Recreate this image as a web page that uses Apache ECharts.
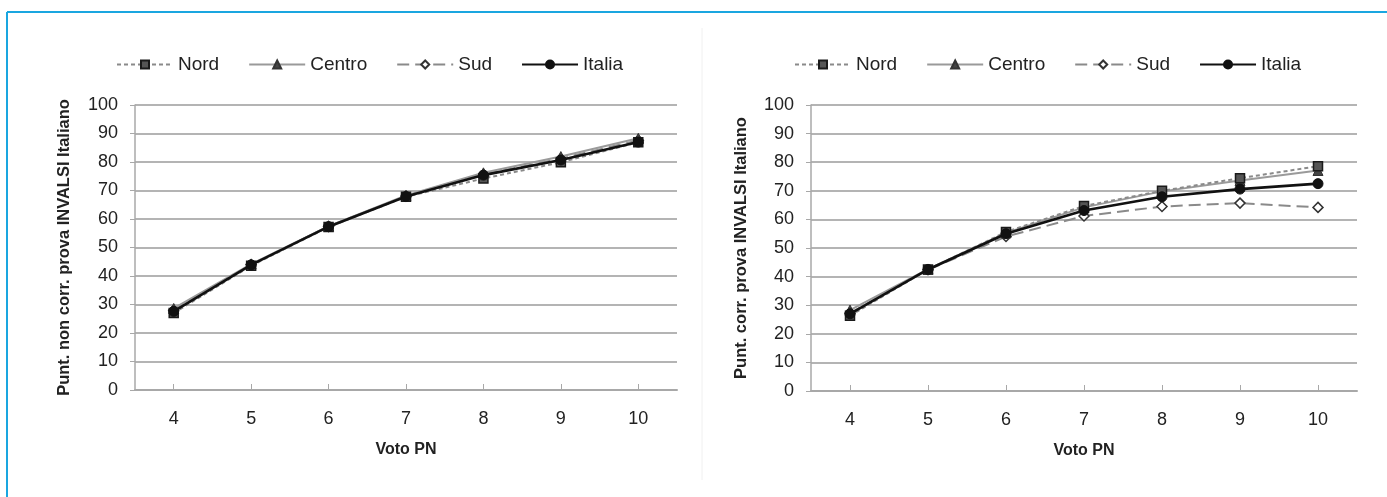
<!DOCTYPE html>
<html>
<head>
<meta charset="utf-8">
<script src="https://cdn.jsdelivr.net/npm/echarts@6/dist/echarts.min.js"></script>
<style>
html,body{margin:0;padding:0;background:#fff;}
#c{width:1387px;height:497px;}
</style>
</head>
<body>
<div id="c"></div>
<script>
var categories = ['4','5','6','7','8','9','10'];
var seriesNames = ['Nord','Centro','Sud','Italia'];
// Left chart: punteggio non corretto
var leftNord   = [27.0, 43.6, 57.2, 67.8, 74.2, 79.9, 86.9];
var leftCentro = [28.6, 44.2, 57.5, 68.3, 76.2, 81.9, 88.3];
var leftSud    = [28.0, 44.0, 57.4, 68.0, 75.6, 81.2, 87.6];
var leftItalia = [27.6, 43.9, 57.3, 67.9, 75.4, 80.7, 87.0];
// Right chart: punteggio corretto
var rightNord   = [26.3, 42.5, 55.6, 64.7, 70.0, 74.4, 78.6];
var rightCentro = [28.3, 42.6, 55.3, 64.2, 69.8, 73.6, 77.1];
var rightSud    = [27.2, 42.4, 54.0, 61.2, 64.5, 65.7, 64.2];
var rightItalia = [27.0, 42.5, 55.0, 63.1, 67.9, 70.6, 72.5];
var yTicks = [0,10,20,30,40,50,60,70,80,90,100];

var FONT = '"Liberation Sans Narrow", "Liberation Sans", sans-serif';

var styles = {
  Nord:   {color:'#8a8a8a', type:[4,3], width:2, symbol:'rect', size:9, fill:'#555', border:'#1a1a1a', bw:1.5, z:4},
  Centro: {color:'#9a9a9a', type:'solid', width:2, symbol:'triangle', size:10, fill:'#444', border:'#333', bw:1, z:3},
  Sud:    {color:'#8a8a8a', type:[12,6], width:2, symbol:'diamond', size:10, fill:'#fff', border:'#333', bw:1.5, z:2},
  Italia: {color:'#111', type:'solid', width:2.6, symbol:'circle', size:10, fill:'#111', border:'#111', bw:1, z:5}
};

function mkSeries(name, data, idx) {
  var s = styles[name];
  return {
    name: name, type: 'line', data: data,
    xAxisIndex: idx, yAxisIndex: idx,
    symbol: s.symbol, symbolSize: s.size,
    lineStyle: {color: s.color, type: s.type, width: s.width},
    itemStyle: {color: s.fill, borderColor: s.border, borderWidth: s.bw},
    z: s.z,
    animation: false
  };
}

function mkX(idx) {
  return {
    type: 'category', data: categories, gridIndex: idx, boundaryGap: true,
    name: 'Voto PN', nameLocation: 'middle', nameGap: 52,
    nameTextStyle: {fontFamily: FONT, fontWeight: 'bold', fontSize: 16, color: '#222'},
    axisLine: {lineStyle: {color: '#a8a8a8', width: 2}},
    axisTick: {show: true, alignWithLabel: true, inside: true, length: 6, lineStyle: {color: '#a8a8a8', width: 1}},
    axisLabel: {fontFamily: FONT, fontSize: 18, color: '#222', margin: 20},
    splitLine: {show: false}
  };
}
function mkY(idx, name, gap) {
  return {
    type: 'value', gridIndex: idx, min: 0, max: 100, interval: 10,
    name: name, nameLocation: 'middle', nameGap: gap, nameRotate: 90,
    nameTextStyle: {fontFamily: FONT, fontWeight: 'bold', fontSize: 16.5, color: '#222'},
    axisLine: {show: true, lineStyle: {color: '#a8a8a8', width: 1.5}},
    axisTick: {show: true, length: 5, lineStyle: {color: '#a8a8a8'}},
    axisLabel: {fontFamily: FONT, fontSize: 18, color: '#222', margin: 17,
      formatter: function (v) { return yTicks.indexOf(v) >= 0 ? String(v) : ''; }},
    splitLine: {show: true, lineStyle: {color: '#b4b4b4', width: 2}}
  };
}

function mkLegend(left) {
  return {
    data: seriesNames.slice(), left: left, top: 50,
    itemWidth: 56, itemHeight: 10, itemGap: 29,
    textStyle: {fontFamily: FONT, fontSize: 19, color: '#222'},
    selectedMode: false
  };
}

var chart = echarts.init(document.getElementById('c'), null, {renderer: 'canvas'});
var option = {
  backgroundColor: '#fff',
  animation: false,
  legend: [mkLegend(111), mkLegend(789)],
  grid: [
    {left: 135, right: 710, top: 105, bottom: 107},
    {left: 811, right: 30, top: 105, bottom: 106}
  ],
  xAxis: [mkX(0), mkX(1)],
  yAxis: [mkY(0, 'Punt. non corr. prova INVALSI Italiano', 62), mkY(1, 'Punt. corr. prova INVALSI Italiano', 61)],
  series: [
    mkSeries('Nord', leftNord, 0), mkSeries('Centro', leftCentro, 0), mkSeries('Sud', leftSud, 0), mkSeries('Italia', leftItalia, 0),
    mkSeries('Nord', rightNord, 1), mkSeries('Centro', rightCentro, 1), mkSeries('Sud', rightSud, 1), mkSeries('Italia', rightItalia, 1)
  ],
  graphic: [
    {type: 'line', shape: {x1: 7, y1: 12, x2: 1387, y2: 12}, style: {stroke: '#1aa6e0', lineWidth: 2}, silent: true},
    {type: 'line', shape: {x1: 7, y1: 12, x2: 7, y2: 497}, style: {stroke: '#1aa6e0', lineWidth: 2}, silent: true},
    {type: 'line', shape: {x1: 702, y1: 28, x2: 702, y2: 480}, style: {stroke: '#f0f0f0', lineWidth: 1}, silent: true}
  ]
};
chart.setOption(option);
</script>
</body>
</html>
